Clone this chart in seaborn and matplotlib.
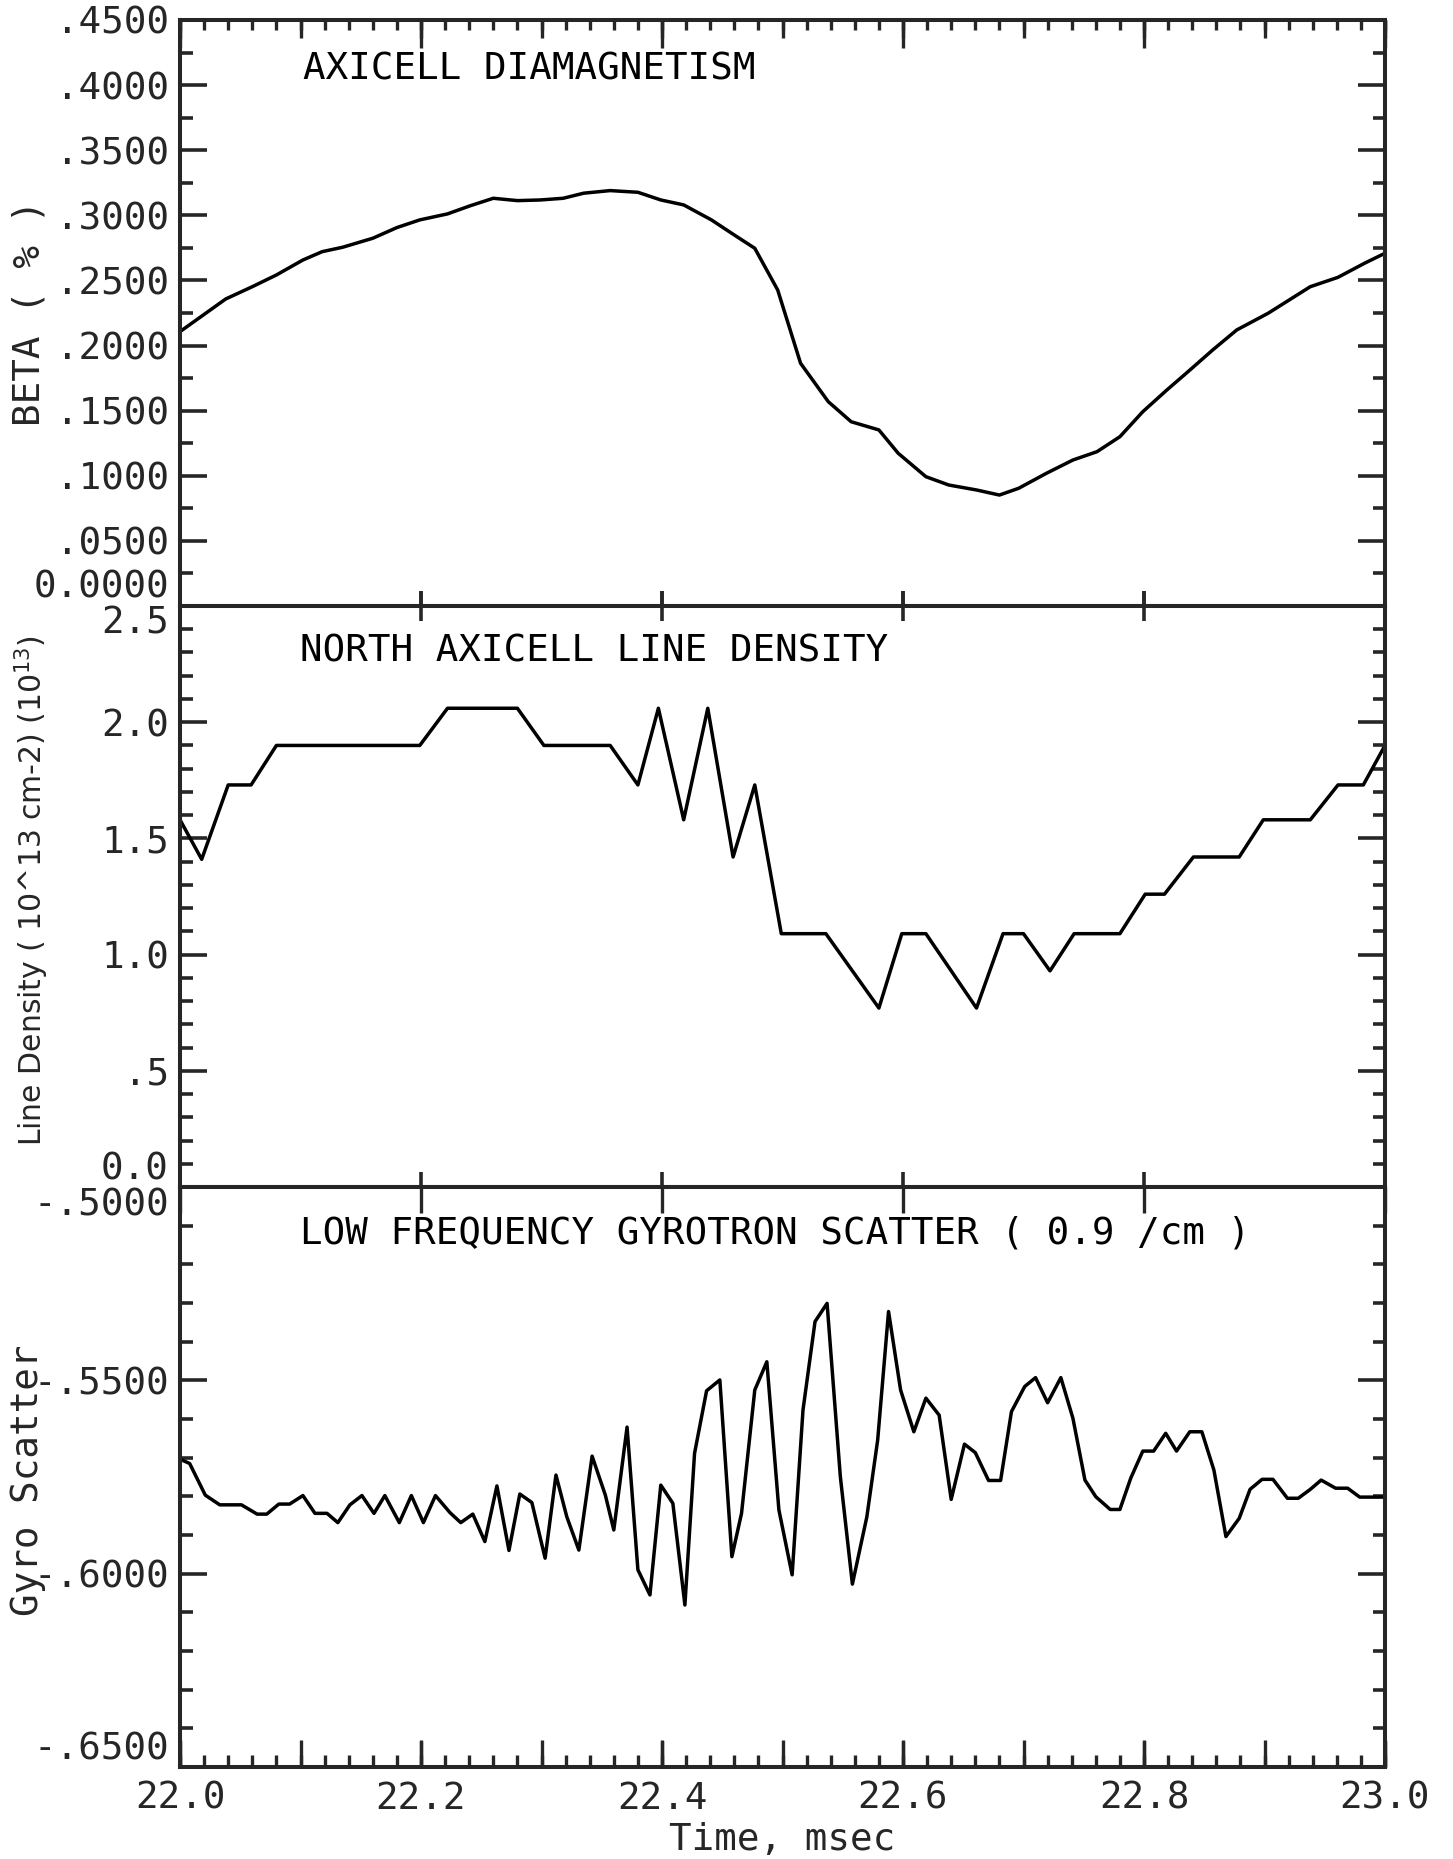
import numpy as np
import pandas as pd
import matplotlib
matplotlib.use("Agg")
import matplotlib.pyplot as plt
from matplotlib.ticker import FixedLocator, FixedFormatter, MultipleLocator, NullFormatter
import seaborn as sns

# ---------------- data ----------------
beta_t = [22.000, 22.038, 22.060, 22.080, 22.102, 22.118, 22.135, 22.160, 22.180, 22.199,
          22.222, 22.241, 22.260, 22.280, 22.299, 22.318, 22.335, 22.357, 22.380, 22.399,
          22.418, 22.441, 22.460, 22.477, 22.496, 22.515, 22.538, 22.557, 22.580, 22.596,
          22.619, 22.638, 22.661, 22.680, 22.696, 22.719, 22.741, 22.761, 22.780, 22.799,
          22.819, 22.835, 22.857, 22.877, 22.903, 22.938, 22.961, 22.983, 23.000]
beta_v = [0.2107, 0.2358, 0.2452, 0.2542, 0.2657, 0.2721, 0.2755, 0.2824, 0.2906, 0.2965,
          0.3011, 0.3074, 0.3131, 0.3113, 0.3118, 0.3131, 0.3170, 0.3190, 0.3177, 0.3118,
          0.3080, 0.2965, 0.2849, 0.2747, 0.2427, 0.1864, 0.1569, 0.1415, 0.1352, 0.1173,
          0.0993, 0.0929, 0.0891, 0.0852, 0.0904, 0.1019, 0.1121, 0.1185, 0.1300, 0.1492,
          0.1659, 0.1787, 0.1966, 0.2120, 0.2248, 0.2452, 0.2524, 0.2632, 0.2709]

dens_t = [22.000, 22.018, 22.040, 22.059, 22.080, 22.199, 22.222, 22.280, 22.302, 22.357,
          22.380, 22.397, 22.418, 22.438, 22.459, 22.477, 22.499, 22.536, 22.580, 22.599,
          22.619, 22.661, 22.683, 22.700, 22.722, 22.742, 22.780, 22.801, 22.817, 22.841,
          22.879, 22.899, 22.938, 22.961, 22.982, 23.000]
dens_v = [1.58, 1.41, 1.73, 1.73, 1.90, 1.90, 2.06, 2.06, 1.90, 1.90,
          1.73, 2.06, 1.58, 2.06, 1.42, 1.73, 1.09, 1.09, 0.77, 1.09,
          1.09, 0.77, 1.09, 1.09, 0.93, 1.09, 1.09, 1.26, 1.26, 1.42,
          1.42, 1.58, 1.58, 1.73, 1.73, 1.90]

gyro_t = [22.000, 22.008, 22.021, 22.033, 22.051, 22.064, 22.072, 22.082, 22.091, 22.102,
          22.112, 22.122, 22.131, 22.141, 22.151, 22.161, 22.170, 22.182, 22.192, 22.202,
          22.212, 22.224, 22.233, 22.243, 22.253, 22.263, 22.273, 22.282, 22.292, 22.303,
          22.312, 22.321, 22.331, 22.342, 22.353, 22.360, 22.371, 22.380, 22.390, 22.399,
          22.409, 22.419, 22.427, 22.437, 22.448, 22.458, 22.466, 22.477, 22.487, 22.497,
          22.508, 22.517, 22.527, 22.537, 22.548, 22.558, 22.570, 22.579, 22.588, 22.598,
          22.609, 22.619, 22.630, 22.640, 22.651, 22.660, 22.671, 22.681, 22.690, 22.701,
          22.710, 22.720, 22.731, 22.741, 22.751, 22.760, 22.772, 22.780, 22.789, 22.799,
          22.808, 22.818, 22.827, 22.838, 22.848, 22.858, 22.868, 22.879, 22.888, 22.898,
          22.907, 22.919, 22.928, 22.938, 22.947, 22.959, 22.969, 22.979, 23.000]
gyro_v = [-0.5704, -0.5715, -0.5797, -0.5822, -0.5822, -0.5846, -0.5846, -0.5820, -0.5820, -0.5798,
          -0.5844, -0.5844, -0.5868, -0.5822, -0.5798, -0.5844, -0.5798, -0.5868, -0.5798, -0.5868,
          -0.5798, -0.5842, -0.5868, -0.5846, -0.5917, -0.5773, -0.5940, -0.5794, -0.5816, -0.5960,
          -0.5745, -0.5853, -0.5939, -0.5696, -0.5797, -0.5887, -0.5621, -0.5990, -0.6055, -0.5771,
          -0.5818, -0.6081, -0.5689, -0.5527, -0.5499, -0.5956, -0.5844, -0.5525, -0.5452, -0.5835,
          -0.6003, -0.5577, -0.5348, -0.5301, -0.5749, -0.6027, -0.5853, -0.5654, -0.5322, -0.5525,
          -0.5633, -0.5546, -0.5590, -0.5808, -0.5665, -0.5687, -0.5759, -0.5759, -0.5581, -0.5516,
          -0.5493, -0.5558, -0.5493, -0.5598, -0.5758, -0.5801, -0.5834, -0.5834, -0.5753, -0.5683,
          -0.5683, -0.5637, -0.5683, -0.5633, -0.5633, -0.5732, -0.5904, -0.5857, -0.5782, -0.5756,
          -0.5756, -0.5805, -0.5805, -0.5782, -0.5758, -0.5779, -0.5779, -0.5802, -0.5802]

x_ticks = [22.0, 22.2, 22.4, 22.6, 22.8, 23.0]
x_labels = ["22.0", "22.2", "22.4", "22.6", "22.8", "23.0"]

beta_ticks = [0.0, 0.05, 0.10, 0.15, 0.20, 0.25, 0.30, 0.35, 0.40, 0.45]
beta_labels = ["0.0000", ".0500", ".1000", ".1500", ".2000", ".2500", ".3000", ".3500", ".4000", ".4500"]
dens_ticks = [0.0, 0.5, 1.0, 1.5, 2.0, 2.5]
dens_labels = ["0.0", ".5", "1.0", "1.5", "2.0", "2.5"]
gyro_ticks = [-0.65, -0.60, -0.55, -0.50]
gyro_labels = ["-.6500", "-.6000", "-.5500", "-.5000"]

panel_titles = ["AXICELL DIAMAGNETISM", "NORTH AXICELL LINE DENSITY",
                "LOW FREQUENCY GYROTRON SCATTER ( 0.9 /cm )"]
y_titles = ["BETA ( % )", "Line Density ( 10^13 cm-2) (10$^{13}$)", "Gyro Scatter"]

# ---------------- style ----------------
sns.set_style("ticks")
plt.rcParams['font.family'] = ['DejaVu Sans Mono', 'DejaVu Sans']
plt.rcParams['axes.linewidth'] = 2.9
MONO = 'DejaVu Sans Mono'
FS = 27
TICK_COLOR = '.15'

fig = plt.figure(figsize=(14.53, 18.59), dpi=100)
L, W = 180 / 1453, 1205 / 1453
H = 1859
ax1 = fig.add_axes([L, 1 - 606 / H, W, 586 / H])
ax2 = fig.add_axes([L, 1 - 1187 / H, W, 581 / H])
ax3 = fig.add_axes([L, 1 - 1767 / H, W, 580 / H])

sns.lineplot(data=pd.DataFrame({"t": beta_t, "v": beta_v}), x="t", y="v", ax=ax1,
             color="black", linewidth=2.5, sort=False, estimator=None, legend=False)
sns.lineplot(data=pd.DataFrame({"t": dens_t, "v": dens_v}), x="t", y="v", ax=ax2,
             color="black", linewidth=2.5, sort=False, estimator=None, legend=False)
sns.lineplot(data=pd.DataFrame({"t": gyro_t, "v": gyro_v}), x="t", y="v", ax=ax3,
             color="black", linewidth=2.5, sort=False, estimator=None, legend=False)

ylims = [(0.0, 0.45), (0.0, 2.5), (-0.65, -0.50)]
yticks = [beta_ticks, dens_ticks, gyro_ticks]
ylabels = [beta_labels, dens_labels, gyro_labels]
yminor = [0.025, 0.1, 0.01]
for ax, lim, tk, lb, mn in zip([ax1, ax2, ax3], ylims, yticks, ylabels, yminor):
    ax.set_xlim(22.0, 23.0)
    ax.set_ylim(*lim)
    ax.set_xlabel("")
    ax.set_ylabel("")
    ax.yaxis.set_major_locator(FixedLocator(tk))
    ax.yaxis.set_major_formatter(FixedFormatter(lb))
    ax.yaxis.set_minor_locator(MultipleLocator(mn))
    ax.tick_params(axis='y', which='major', direction='in', length=19.5, width=2.6,
                   left=True, right=True, labelsize=FS, pad=8)
    ax.tick_params(axis='y', which='minor', direction='in', length=9, width=2.6,
                   left=True, right=True)
    for s in ax.spines.values():
        s.set_visible(True)
        s.set_linewidth(2.9)
    for lab in ax.get_yticklabels():
        lab.set_fontfamily(MONO)

x_tenth = [round(22.0 + 0.1 * i, 2) for i in range(11)]
x_fifty = [round(22.0 + 0.02 * i, 2) for i in range(51)]


def spine_ticks(ax, locs, frac, side):
    """Fine time ticks drawn along the top or bottom spine (x in data, y in axes units)."""
    if side == 'top':
        lo, hi = 1.0 - frac, 1.0
    else:
        lo, hi = 0.0, frac
    ax.vlines(locs, lo, hi, transform=ax.get_xaxis_transform(),
              colors=TICK_COLOR, linewidth=2.4, clip_on=False, zorder=3)


# ---- top panel: 0.02 / 0.1 / 0.2 ticks along the top spine
ax1.xaxis.set_major_locator(FixedLocator(x_ticks))
ax1.xaxis.set_major_formatter(NullFormatter())
ax1.xaxis.set_minor_locator(FixedLocator([]))
ax1.tick_params(axis='x', which='major', direction='in', length=11, width=2.6,
                top=False, bottom=True, labelbottom=False, labeltop=False)
spine_ticks(ax1, x_fifty, 10 / 586, 'top')
spine_ticks(ax1, x_tenth, 18 / 586, 'top')
spine_ticks(ax1, x_ticks, 28 / 586, 'top')

# ---- middle panel: crossing ticks on both boundaries
ax2.xaxis.set_major_locator(FixedLocator(x_ticks))
ax2.xaxis.set_major_formatter(NullFormatter())
ax2.xaxis.set_minor_locator(FixedLocator([]))
ax2.tick_params(axis='x', which='major', direction='inout', length=22, width=2.6,
                top=True, bottom=True, labelbottom=False, labeltop=False)

# ---- bottom panel: labelled time axis + fine ticks
ax3.xaxis.set_major_locator(FixedLocator(x_ticks))
ax3.xaxis.set_major_formatter(FixedFormatter(x_labels))
ax3.xaxis.set_minor_locator(FixedLocator([]))
ax3.tick_params(axis='x', which='major', direction='in', length=19, width=2.4,
                top=True, bottom=True, labelsize=FS, pad=10,
                labelbottom=True, labeltop=False)
for lab in ax3.get_xticklabels():
    lab.set_fontfamily(MONO)
spine_ticks(ax3, x_fifty, 12 / 580, 'bottom')
spine_ticks(ax3, x_tenth, 27 / 580, 'bottom')

# vertical alignment of boundary tick labels
ax1.yaxis.get_major_ticks()[0].label1.set_va('bottom')
ax2.yaxis.get_major_ticks()[0].label1.set_va('bottom')
ax2.yaxis.get_major_ticks()[-1].label1.set_va('top')
ax3.yaxis.get_major_ticks()[0].label1.set_va('bottom')
ax3.yaxis.get_major_ticks()[-1].label1.set_va('top')

# panel titles
title_pos = [(0.102, 0.915), (0.0996, 0.921), (0.0996, 0.919)]
for ax, txt, (px, py) in zip([ax1, ax2, ax3], panel_titles, title_pos):
    ax.text(px, py, txt, transform=ax.transAxes, ha='left', va='center',
            fontsize=FS, fontfamily=MONO, color='black')

# y axis titles
ax1.set_ylabel(y_titles[0], fontsize=FS, fontfamily=MONO)
ax1.yaxis.set_label_coords(-0.1253, 0.5)
ax2.set_ylabel(y_titles[1], fontsize=21.5, fontfamily='DejaVu Sans')
ax2.yaxis.set_label_coords(-0.1228, 0.511)
ax3.set_ylabel(y_titles[2], fontsize=FS, fontfamily=MONO)
ax3.yaxis.set_label_coords(-0.126, 0.495)
for ax in [ax1, ax2, ax3]:
    ax.yaxis.label.set_va('center')

ax3.set_xlabel("Time, msec", fontsize=FS, fontfamily=MONO)
ax3.xaxis.set_label_coords(0.5, -0.126)
ax3.xaxis.label.set_va('center')

fig.savefig("out.png", dpi=100, facecolor='white')
